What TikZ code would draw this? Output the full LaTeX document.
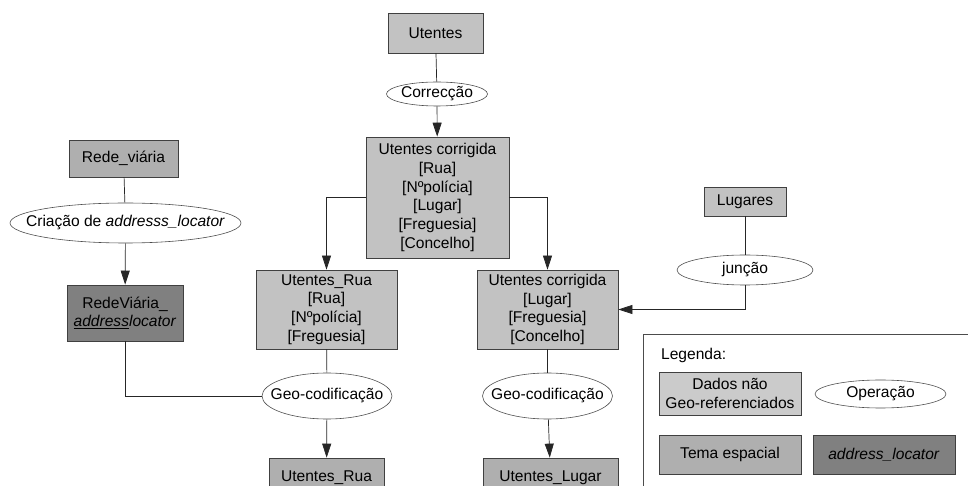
\documentclass[tikz,border=0pt]{standalone}
\usepackage{fontspec}
\setmainfont{Liberation Sans}
\usetikzlibrary{shapes.geometric,arrows.meta,positioning}
\definecolor{semgeo}{HTML}{C2C2C2}
\definecolor{tema}{HTML}{AFAFAF}
\definecolor{locator}{HTML}{808080}
\tikzset
{
    dados/.style = {rectangle, draw=black!75, fill=semgeo, align=center, inner sep=0pt, line width=0.6pt},
    espacial/.style = {rectangle, draw=black!75, fill=tema, align=center, inner sep=0pt, line width=0.6pt},
    locbox/.style = {rectangle, draw=black!75, fill=locator, align=center, inner sep=0pt, line width=0.6pt},
    operacao/.style = {ellipse, draw=black!70, fill=white, align=center, inner xsep=-0.6cm, inner ysep=0pt, line width=0.5pt},
    liga/.style = {draw=black!85, line width=0.6pt},
    seta/.style = {liga, -{Triangle[length=0.42cm,width=0.27cm]}}
}
\begin{document}
\begin{tikzpicture}[x=0.03cm, y=-0.03cm, font=\fontsize{13.3}{16}\selectfont]
	\useasboundingbox (0,0) rectangle (968,486);
	% coluna central
	\node[dados, minimum width=2.85cm, minimum height=1.2cm] (ut) at (435.5,33) {Utentes};
	\node[operacao, minimum width=3.03cm, minimum height=0.72cm] (cor) at (437,94) {Correcção};
	\node[dados, minimum width=4.29cm, minimum height=3.63cm] (utc) at (437.5,197.5)
		{Utentes corrigida\\{[}Rua{]}\\{[}Nºpolícia{]}\\{[}Lugar{]}\\{[}Freguesia{]}\\{[}Concelho{]}};
	\node[dados, minimum width=4.23cm, minimum height=2.37cm] (utr) at (326.5,309.5)
		{Utentes\_Rua\\{[}Rua{]}\\{[}Nºpolícia{]}\\{[}Freguesia{]}};
	\node[dados, minimum width=4.23cm, minimum height=2.37cm] (utl) at (547.5,309.5)
		{Utentes corrigida\\{[}Lugar{]}\\{[}Freguesia{]}\\{[}Concelho{]}};
	\node[operacao, minimum width=3.9cm, minimum height=1.38cm] (geor) at (327,396) {Geo-codificação};
	\node[operacao, minimum width=3.9cm, minimum height=1.38cm] (geol) at (547.5,396) {Geo-codificação};
	\node[espacial, minimum width=3.45cm, minimum height=1.2cm] (temr) at (326.5,478) {Utentes\_Rua};
	\node[espacial, minimum width=4.05cm, minimum height=1.2cm] (teml) at (550.5,478) {Utentes\_Lugar};
	% lugares
	\node[dados, minimum width=2.46cm, minimum height=0.87cm] (lug) at (745,201.5) {Lugares};
	\node[operacao, minimum width=4.08cm, minimum height=0.9cm] (jun) at (745,270) {junção};
	% rede viaria
	\node[espacial, minimum width=3.27cm, minimum height=1.11cm] (rv) at (123.5,158.5) {Rede\_viária};
	\node[operacao, minimum width=6.93cm, minimum height=1.2cm] (cria) at (125.5,223)
		{Criação de \textit{addresss\_locator}};
	\node[locbox, minimum width=3.48cm, minimum height=1.68cm] (rvl) at (125,313)
		{RedeViária\_\\\underline{\textit{address}}\textit{locator}};
	% ligacoes
	\draw[liga] (ut) -- (cor);
	\draw[seta] (cor) -- (utc);
	\draw[seta] (utc.west) -| (utr.north);
	\draw[seta] (utc.east) -| (utl.north);
	\draw[liga] (lug) -- (jun);
	\draw[seta] (jun.south) |- (utl.east);
	\draw[liga] (rv) -- (cria);
	\draw[seta] (cria) -- (rvl);
	\draw[liga] (rvl.south) |- (geor.west);
	\draw[liga] (utr) -- (geor);
	\draw[seta] (geor) -- (temr);
	\draw[liga] (utl) -- (geol);
	\draw[seta] (geol) -- (teml);
	% legenda
	\coordinate (legbl) at (643,486);
	\coordinate (legtl) at (643,334);
	\coordinate (legtr) at (968,334);
	\draw[liga, draw=black!70] (legbl) -- (legtl) -- (legtr);
	\node[anchor=west] (leg) at (657,355) {Legenda:};
	\node[dados, fill=semgeo!85!white, minimum width=4.26cm, minimum height=1.29cm] (lgd) at (730,393.5)
		{Dados não\\Geo-referenciados};
	\node[operacao, minimum width=3.93cm, minimum height=0.84cm] (lgo) at (880.5,394) {Operação};
	\node[espacial, minimum width=4.26cm, minimum height=1.17cm] (lgt) at (730,454.5) {Tema espacial};
	\node[locbox, minimum width=4.26cm, minimum height=1.17cm] (lga) at (884,454.5) {\textit{address\_locator}};
\end{tikzpicture}
\end{document}
